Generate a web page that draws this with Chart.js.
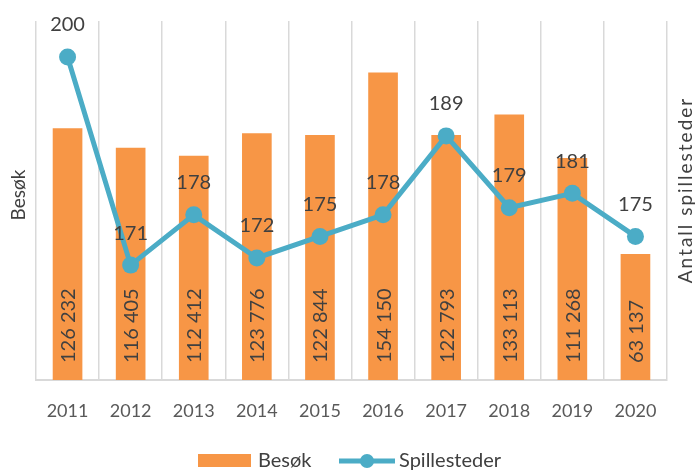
<!DOCTYPE html>
<html>
<head>
<meta charset="utf-8">
<script src="https://cdn.jsdelivr.net/npm/chart.js@4"></script>
<style>
  html, body { margin: 0; padding: 0; background: #fff; }
  #wrap { width: 696px; height: 472px; position: relative; }
</style>
</head>
<body>
<div id="wrap"><canvas id="chart" width="696" height="472"></canvas></div>
<script>
// data
const years = ['2011', '2012', '2013', '2014', '2015', '2016', '2017', '2018', '2019', '2020'];
const besok = [126232, 116405, 112412, 123776, 122844, 154150, 122793, 133113, 111268, 63137];
const spillesteder = [200, 171, 178, 172, 175, 178, 189, 179, 181, 175];

const FONT = 'Lato, "Open Sans", sans-serif';
const ORANGE = '#F79646';
const TEAL = '#4BACC6';
const TXT = '#404040';

// no. format with space as thousands separator
function fmt(v) {
    return String(v).replace(/\B(?=(\d{3})+(?!\d))/g, ' ');
}

// labels on bars and points, axis titles and legend
const extras = {
    id: 'extras',
    afterDatasetsDraw(chart) {
        const ctx = chart.ctx;
        ctx.save();
        ctx.fillStyle = TXT;
        ctx.font = '20px ' + FONT;

        // dataset 1 is the bars, 0 the line
        chart.getDatasetMeta(1).data.forEach(function (bar, i) {
            ctx.save();
            ctx.translate(bar.x, bar.base - 17);
            ctx.rotate(-Math.PI / 2);
            ctx.textAlign = 'left';
            ctx.textBaseline = 'middle';
            ctx.fillText(fmt(besok[i]), 0, 1);
            ctx.restore();
        });

        // line values above the points
        ctx.textAlign = 'center';
        ctx.textBaseline = 'middle';
        chart.getDatasetMeta(0).data.forEach(function (pt, i) {
            ctx.fillText(String(spillesteder[i]), pt.x, pt.y - 32);
        });

        // axis titles (a bit of spacing to get the Excel width)
        ctx.fillStyle = TXT;
        ctx.font = '19px ' + FONT;
        ctx.save();
        ctx.translate(19, 195);
        ctx.rotate(-Math.PI / 2);
        ctx.fillText('Besøk', 0, 0);
        ctx.restore();
        ctx.save();
        ctx.letterSpacing = '2px';
        ctx.translate(686, 190);
        ctx.rotate(-Math.PI / 2);
        ctx.fillText('Antall spillesteder', 0, 0);
        ctx.restore();

        // legend
        ctx.font = '20px ' + FONT;
        ctx.textAlign = 'left';
        ctx.fillStyle = ORANGE;
        ctx.fillRect(198, 454, 53, 13);
        ctx.fillStyle = TXT;
        ctx.fillText('Besøk', 258, 461);

        ctx.strokeStyle = TEAL;
        ctx.lineWidth = 5;
        ctx.beginPath();
        ctx.moveTo(339, 461);
        ctx.lineTo(395, 461);
        ctx.stroke();
        ctx.fillStyle = TEAL;
        ctx.beginPath();
        ctx.arc(367, 461, 7, 0, Math.PI * 2);
        ctx.fill();
        ctx.fillStyle = TXT;
        ctx.fillText('Spillesteder', 399, 461);
        ctx.restore();
    }
};

new Chart(document.getElementById('chart'), {
    data: {
        labels: years,
        datasets: [
            {
                type: 'line',
                label: 'Spillesteder',
                data: spillesteder,
                yAxisID: 'y1',
                borderColor: TEAL,
                backgroundColor: TEAL,
                borderWidth: 5,
                pointRadius: 8.5,
                pointHoverRadius: 8.5,
                pointBorderWidth: 0,
                tension: 0,
                order: 0
            },
            {
                type: 'bar',
                label: 'Besøk',
                data: besok,
                yAxisID: 'y',
                backgroundColor: ORANGE,
                barPercentage: 0.47,
                categoryPercentage: 1,
                order: 1
            }
        ]
    },
    options: {
        responsive: false,
        animation: false,
        layout: { padding: { left: 36, right: 29, top: 21, bottom: 32 } },
        plugins: {
            legend: { display: false },
            tooltip: { enabled: false }
        },
        scales: {
            x: {
                grid: { color: '#d9d9d9', lineWidth: 1.5, drawTicks: false, offset: true },
                border: { color: '#d9d9d9', width: 2 },
                ticks: { color: '#595959', font: { family: FONT, size: 18 }, padding: 20 },
                afterFit(scale) { scale.height = 60; }
            },
            y: { display: false, min: 0, max: 180000 },
            y1: { display: false, min: 155, max: 205 }
        }
    },
    plugins: [extras]
});
</script>
</body>
</html>
